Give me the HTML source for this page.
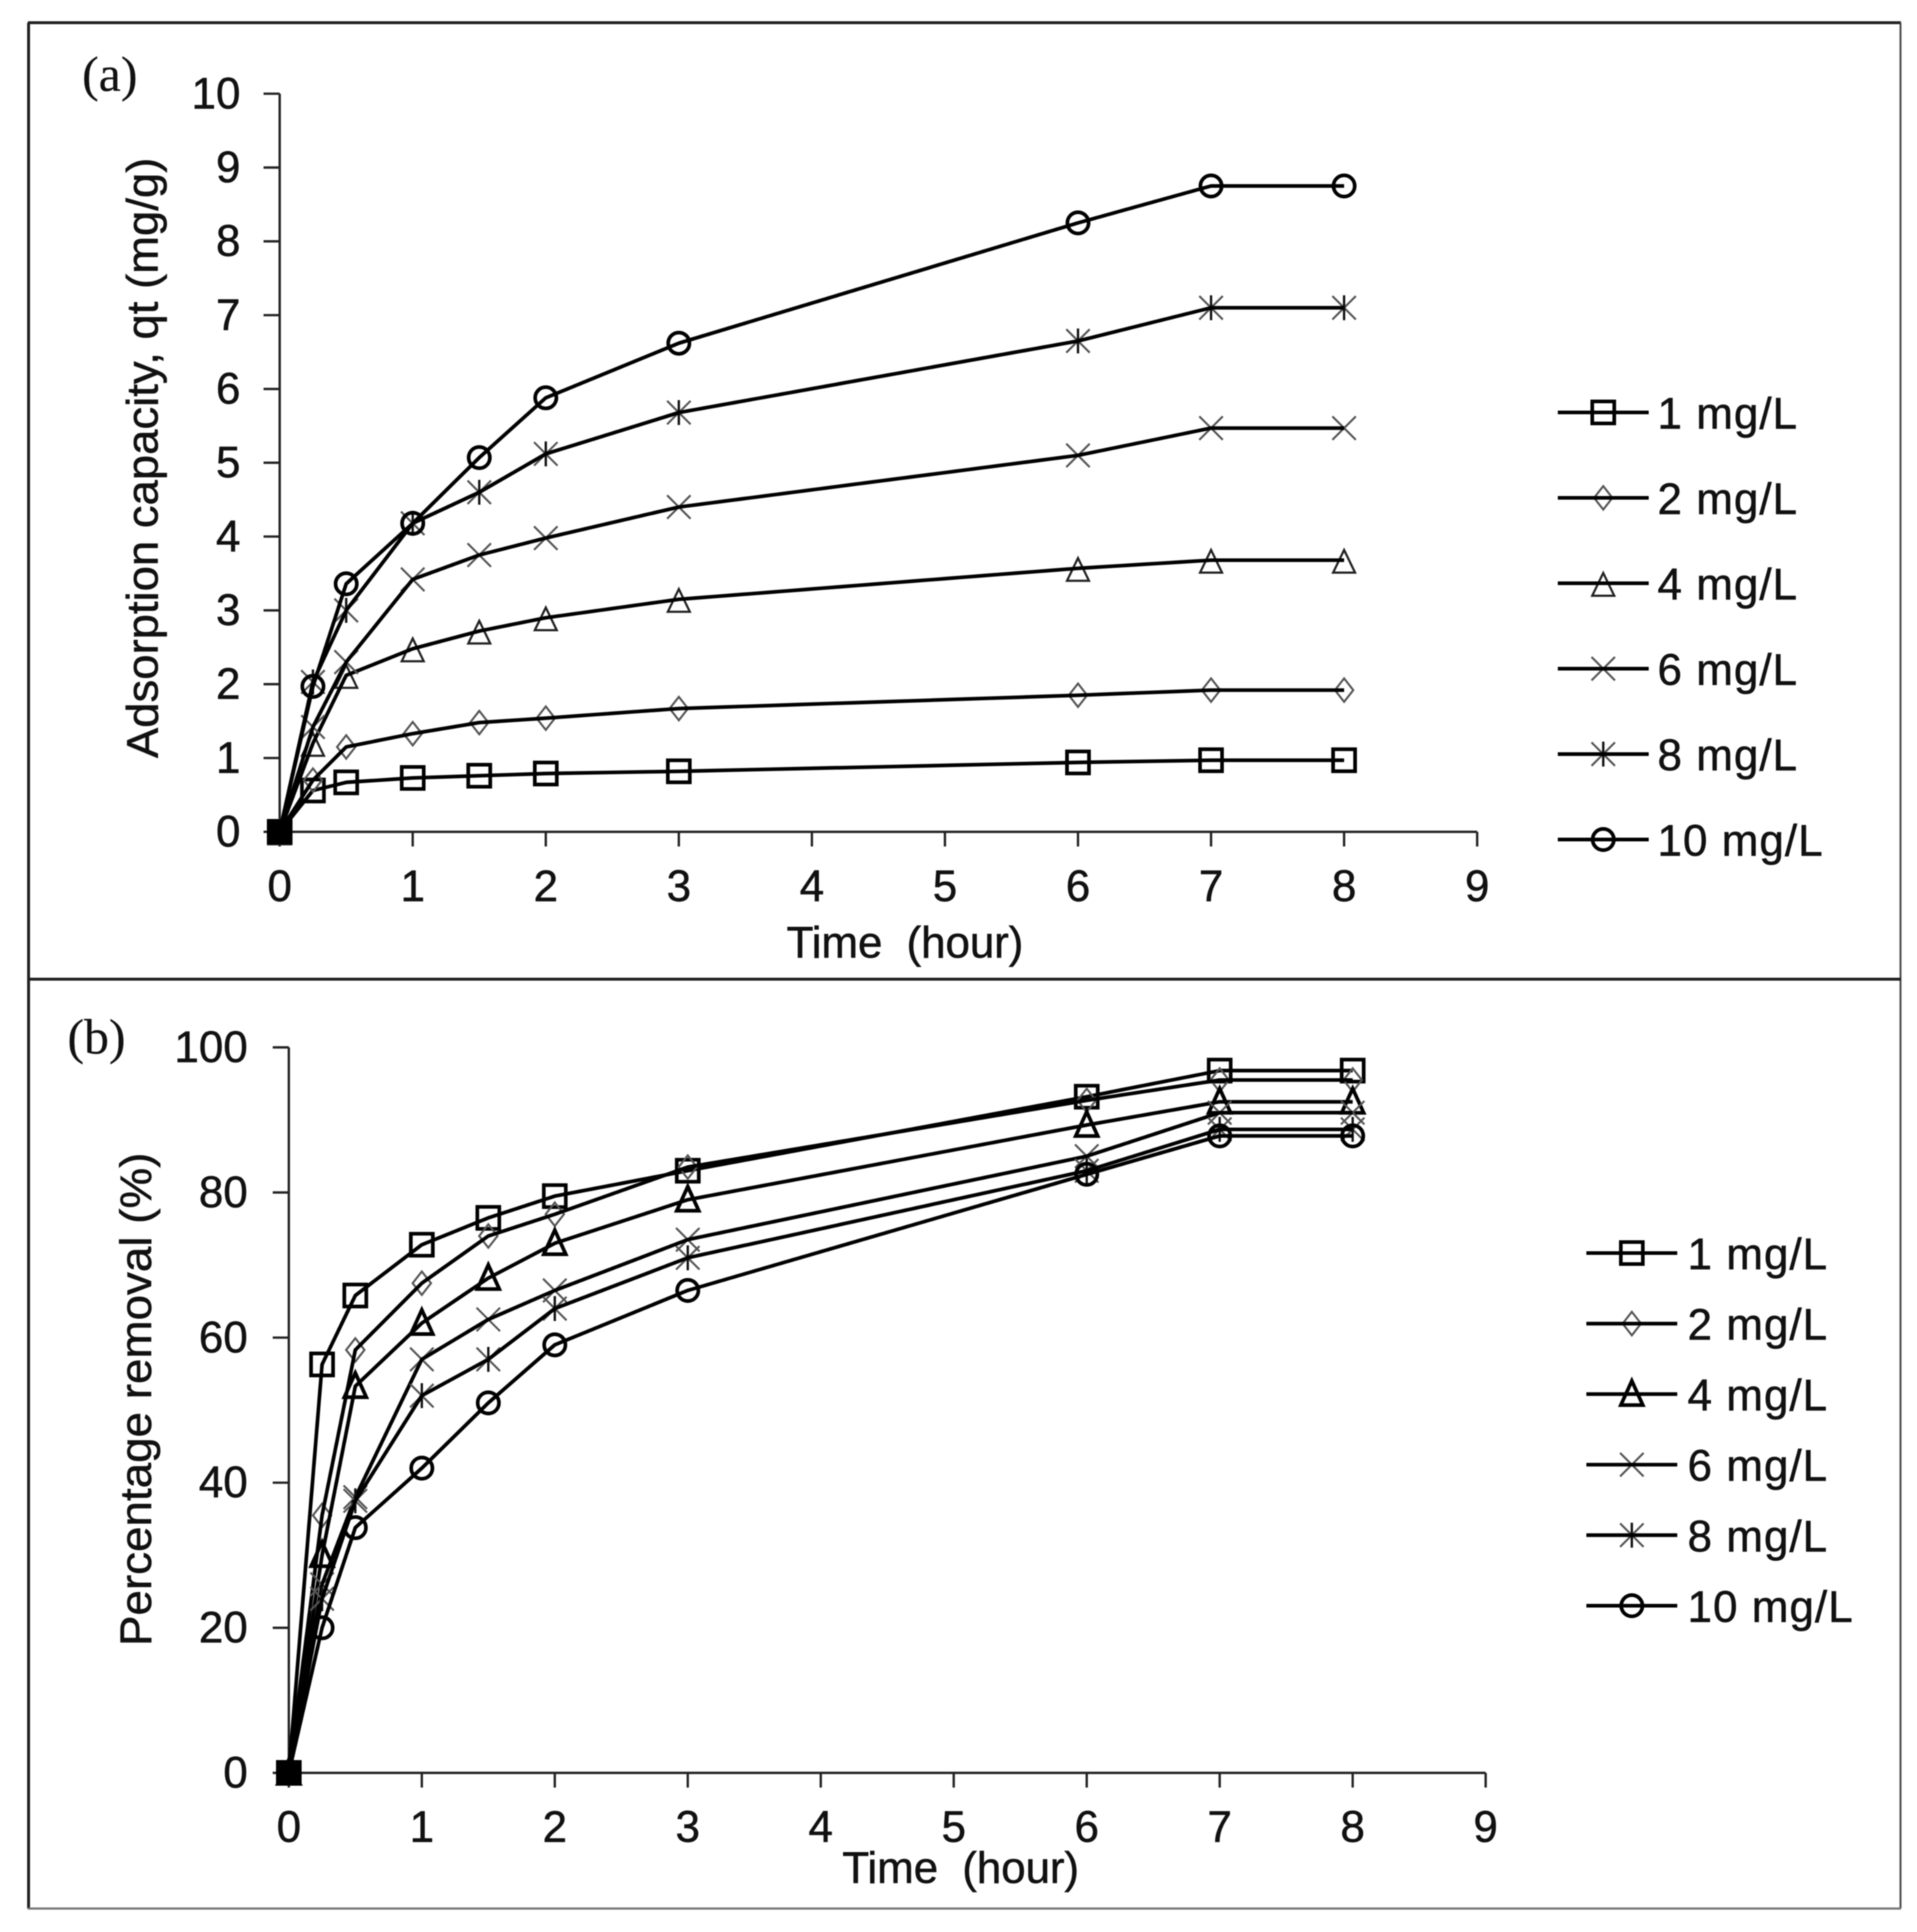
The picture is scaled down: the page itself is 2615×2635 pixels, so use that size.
<!DOCTYPE html>
<html lang="en">
<head>
<meta charset="utf-8">
<title>Adsorption capacity and percentage removal over time</title>
<style>
html,body{margin:0;padding:0;background:#fff;}
svg{display:block;}
text{font-family:"Liberation Sans",sans-serif;fill:#111;stroke:#111;stroke-width:0.7px;font-size:60px;}
.spaced{letter-spacing:1.4px;}
.serif{font-family:"Liberation Serif",serif;font-size:68px;stroke-width:0.3px;}
</style>
</head>
<body>
<svg id="figure" xmlns="http://www.w3.org/2000/svg" width="2615" height="2635" viewBox="0 0 2615 2635">
  <rect x="0" y="0" width="2615" height="2635" fill="#fff"/>
  <g id="plot-root" style="filter:blur(0.8px)">
    <line x1="38" y1="31" x2="2593" y2="31" stroke="#222" stroke-width="4"/>
    <line x1="39" y1="31" x2="39" y2="2603" stroke="#222" stroke-width="4"/>
    <line x1="2592.500" y1="31" x2="2592.500" y2="2603" stroke="#444" stroke-width="2.500"/>
    <line x1="38" y1="2603" x2="2593" y2="2603" stroke="#777" stroke-width="3"/>
    <line x1="38" y1="1335.500" x2="2593" y2="1335.500" stroke="#222" stroke-width="4"/>

    <text class="serif" x="112" y="124">(a)</text>
    <text class="serif" x="92" y="1437">(b)</text>

    <text x="1073" y="1306" textLength="323" lengthAdjust="spacing" xml:space="preserve">Time  (hour)</text>
    <text x="1149" y="2568" textLength="323" lengthAdjust="spacing" xml:space="preserve">Time  (hour)</text>
    <text transform="translate(215,1034) rotate(-90)" textLength="819" lengthAdjust="spacingAndGlyphs">Adsorption capacity, qt (mg/g)</text>
    <text transform="translate(206,2245) rotate(-90)" textLength="673" lengthAdjust="spacingAndGlyphs">Percentage removal (%)</text>
  </g>
</svg>
<script>
// Shared categories
const timeHours = [0, 0.25, 0.5, 1, 1.5, 2, 3, 6, 7, 8];
const legendLabels = ['1 mg/L', '2 mg/L', '4 mg/L', '6 mg/L', '8 mg/L', '10 mg/L'];
const xTicks = [0, 1, 2, 3, 4, 5, 6, 7, 8, 9];
const yTicksA = [0, 1, 2, 3, 4, 5, 6, 7, 8, 9, 10];
const yTicksB = [0, 20, 40, 60, 80, 100];

// Panel (a): adsorption capacity, mg/g
const capacity1 = [0, 0.56, 0.67, 0.73, 0.76, 0.79, 0.82, 0.94, 0.97, 0.97];
const capacity2 = [0, 0.70, 1.15, 1.33, 1.48, 1.54, 1.67, 1.85, 1.92, 1.92];
const capacity4 = [0, 1.20, 2.12, 2.48, 2.72, 2.90, 3.15, 3.57, 3.68, 3.68];
const capacity6 = [0, 1.42, 2.30, 3.42, 3.75, 3.98, 4.40, 5.10, 5.47, 5.47];
const capacity8 = [0, 2.03, 3.00, 4.18, 4.60, 5.12, 5.68, 6.65, 7.10, 7.10];
const capacity10 = [0, 1.97, 3.36, 4.18, 5.07, 5.88, 6.62, 8.25, 8.75, 8.75];

// Panel (b): percentage removal, %
const removal1 = [0, 56.3, 65.8, 72.8, 76.5, 79.5, 83.0, 93.2, 96.8, 96.8];
const removal2 = [0, 35.5, 58.3, 67.5, 74.0, 77.0, 83.5, 92.7, 95.5, 95.5];
const removal4 = [0, 30.0, 53.3, 62.0, 68.2, 73.0, 79.0, 89.3, 92.5, 92.5];
const removal6 = [0, 26.0, 38.0, 57.0, 62.5, 66.5, 73.5, 85.0, 91.0, 91.0];
const removal8 = [0, 24.0, 37.5, 52.0, 57.0, 64.0, 71.0, 83.0, 88.7, 88.7];
const removal10 = [0, 20.0, 33.8, 42.0, 51.0, 59.0, 66.5, 82.5, 87.8, 87.8];

const seriesA = [capacity1, capacity2, capacity4, capacity6, capacity8, capacity10];
const seriesB = [removal1, removal2, removal4, removal6, removal8, removal10];

const SVG_NS = 'http://www.w3.org/2000/svg';
const root = document.getElementById('plot-root');

function make(tag, attrs, parent) {
  const node = document.createElementNS(SVG_NS, tag);
  for (const key in attrs) node.setAttribute(key, attrs[key]);
  parent.appendChild(node);
  return node;
}

function drawMarker(parent, kind, cx, cy, bold) {
  const g = make('g', {fill: 'none'}, parent);
  const thick = {stroke: '#000', 'stroke-width': 5};
  const thin = {stroke: '#555', 'stroke-width': 2.8};
  if (kind === 0) {
    make('rect', Object.assign({x: cx - 15, y: cy - 15, width: 30, height: 30}, thick), g);
  } else if (kind === 1) {
    make('polygon', Object.assign({points: [cx, cy - 16, cx + 12.5, cy, cx, cy + 16, cx - 12.5, cy].join(' ')}, thin), g);
  } else if (kind === 2) {
    if (bold) {
      make('polygon', Object.assign({points: [cx, cy - 18, cx + 15, cy + 15, cx - 15, cy + 15].join(' ')}, thick), g);
    } else {
      make('polygon', {points: [cx, cy - 14, cx + 15, cy + 17, cx - 15, cy + 17].join(' '), stroke: '#222', 'stroke-width': 3}, g);
    }
  } else if (kind === 3 || kind === 4) {
    make('line', Object.assign({x1: cx - 16, y1: cy - 16, x2: cx + 16, y2: cy + 16}, thin), g);
    make('line', Object.assign({x1: cx - 16, y1: cy + 16, x2: cx + 16, y2: cy - 16}, thin), g);
    if (kind === 4) {
      make('line', {x1: cx, y1: cy - 17, x2: cx, y2: cy + 17, stroke: '#111', 'stroke-width': 3.2}, g);
    }
  } else {
    make('circle', Object.assign({cx: cx, cy: cy, r: 14.5}, thick), g);
  }
  return g;
}

function drawPanel(cfg) {
  const panel = make('g', {}, root);
  
  

  const xScale = function (v) { return cfg.x0 + v * cfg.xUnit; };
  const yScale = function (v) { return cfg.y0 - v * cfg.yUnit; };
  const yTop = cfg.yTicks[cfg.yTicks.length - 1];
  const xEnd = cfg.xTicks[cfg.xTicks.length - 1];

  const xAxis = make('line', {x1: xScale(0), y1: yScale(0), x2: xScale(xEnd), y2: yScale(0), stroke: '#222', 'stroke-width': 3.2}, panel);
  
  
  const yAxis = make('line', {x1: xScale(0), y1: yScale(yTop), x2: xScale(0), y2: yScale(0), stroke: '#222', 'stroke-width': 3.2}, panel);
  
  

  cfg.xTicks.forEach(function (t) {
    const tick = make('line', {x1: xScale(t), y1: yScale(0), x2: xScale(t), y2: yScale(0) + 20, stroke: '#222', 'stroke-width': 3.2}, panel);
    
    
    const label = make('text', {x: xScale(t), y: cfg.xLabelY, 'text-anchor': 'middle'}, panel);
    
    
    label.textContent = t;
  });

  cfg.yTicks.forEach(function (t) {
    const tick = make('line', {x1: xScale(0) - 22, y1: yScale(t), x2: xScale(0), y2: yScale(t), stroke: '#222', 'stroke-width': 3.2}, panel);
    
    
    const label = make('text', {x: cfg.yLabelX, y: yScale(t) + 20, 'text-anchor': 'end'}, panel);
    
    
    label.textContent = t;
  });

  cfg.series.forEach(function (values, s) {
    const group = make('g', {}, panel);
    
    
    values.forEach(function (v, i) {
      const mark = drawMarker(group, s, xScale(timeHours[i]), yScale(v), cfg.boldTriangle);
      
      
    });
    const pts = values.map(function (v, i) { return xScale(timeHours[i]) + ',' + yScale(v); }).join(' ');
    const line = make('polyline', {points: pts, fill: 'none', stroke: '#000', 'stroke-width': 5, 'stroke-linejoin': 'round'}, group);
    
    
  });

  // All six series share the first point, so their markers merge into a solid block.
  const originBlock = make('rect', {x: xScale(0) - 17, y: yScale(0) - 17, width: 34, height: 34, fill: '#000'}, panel);
  
  

  const legend = make('g', {}, panel);
  
  
  legendLabels.forEach(function (text, i) {
    const rowY = cfg.legendY + i * cfg.legendStep;
    const entry = make('g', {}, legend);
    
    
    drawMarker(entry, i, cfg.legendX + 62, rowY, cfg.boldTriangle);
    make('line', {x1: cfg.legendX, y1: rowY, x2: cfg.legendX + 124, y2: rowY, stroke: '#000', 'stroke-width': 5}, entry);
    const label = make('text', {x: cfg.legendTextX, y: rowY + cfg.legendBase, class: 'spaced'}, entry);
    
    
    label.textContent = text;
  });
}

drawPanel({
  name: 'panel-a-adsorption-capacity',
  series: seriesA, xTicks: xTicks, yTicks: yTicksA,
  x0: 381.5, xUnit: 181.5, y0: 1134.5, yUnit: 100.67,
  xLabelY: 1229, yLabelX: 328,
  legendX: 2125, legendY: 562.5, legendStep: 116.5, legendTextX: 2261, legendBase: 22,
  boldTriangle: false
});
drawPanel({
  name: 'panel-b-percentage-removal',
  series: seriesB, xTicks: xTicks, yTicks: yTicksB,
  x0: 394, xUnit: 181.4, y0: 2418, yUnit: 9.895,
  xLabelY: 2512, yLabelX: 338,
  legendX: 2164, legendY: 1709, legendStep: 96.2, legendTextX: 2302, legendBase: 22,
  boldTriangle: true
});
</script>
</body>
</html>
